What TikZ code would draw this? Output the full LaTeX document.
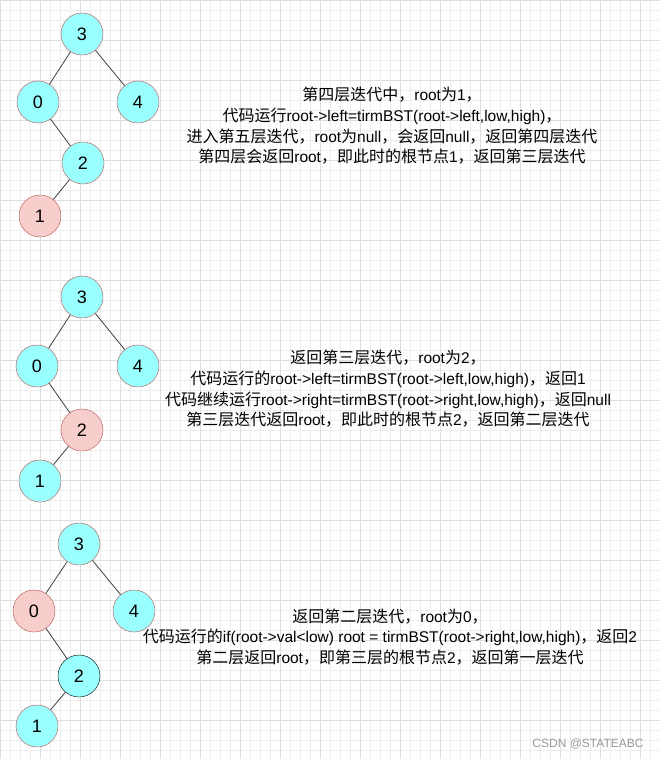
\documentclass[tikz,border=0pt]{standalone}
\usepackage{fontspec}
\setmainfont{Liberation Sans}
\newfontfamily\cjk{Noto Sans CJK SC}
\newcommand\zh[1]{{\cjk\fontsize{16}{20.7}\selectfont #1}}
\definecolor{cy}{HTML}{99FFFF}
\definecolor{pk}{HTML}{F8CECC}
\definecolor{st}{HTML}{B85450}
\begin{document}
\begin{tikzpicture}[x=1pt,y=-1pt,
  tn/.style={circle,minimum size=42pt,inner sep=0pt,draw=st,fill=cy,font=\fontsize{18}{18}\selectfont},
  red/.style={fill=pk},
  edge/.style={draw=black!75,line width=0.8pt},
  txt/.style={align=center,font=\fontsize{15.5}{20.7}\selectfont}]
\useasboundingbox (0,0) rectangle (660,759);
\fill[white] (0,0) rectangle (660,759);
\foreach \i in {0,10,...,660} \draw[black!7,line width=0.5pt] (\i,0) -- (\i,759);
\foreach \i in {0,10,...,750} \draw[black!7,line width=0.5pt] (0,\i) -- (660,\i);
\foreach \i in {0,40,...,660} \draw[black!13,line width=0.6pt] (\i,0) -- (\i,759);
\foreach \i in {0,40,...,750} \draw[black!13,line width=0.6pt] (0,\i) -- (660,\i);
% tree 1
\node[tn] (a3) at (82,34) {3};
\node[tn] (a0) at (38,102) {0};
\node[tn] (a4) at (138,102) {4};
\node[tn] (a2) at (83,163) {2};
\node[tn,red] (a1) at (40,216) {1};
\draw[edge] (a3)--(a0); \draw[edge] (a3)--(a4); \draw[edge] (a0)--(a2); \draw[edge] (a2)--(a1);
\node[txt] (t1) at (392,126) {\zh{第四层迭代中，}root\zh{为}1\zh{，}\\\zh{代码运行}root->left=tirmBST(root->left,low,high)\zh{，}\\\zh{进入第五层迭代，}root\zh{为}null\zh{，会返回}null\zh{，返回第四层迭代}\\\zh{第四层会返回}root\zh{，即此时的根节点}1\zh{，返回第三层迭代}};
% tree 2
\node[tn] (b3) at (82,297) {3};
\node[tn] (b0) at (37,366) {0};
\node[tn] (b4) at (138,366) {4};
\node[tn,red] (b2) at (82,430) {2};
\node[tn] (b1) at (40,481) {1};
\draw[edge] (b3)--(b0); \draw[edge] (b3)--(b4); \draw[edge] (b0)--(b2); \draw[edge] (b2)--(b1);
\node[txt] (t2) at (388,389) {\zh{返回第三层迭代，}root\zh{为}2\zh{，}\\\zh{代码运行的}root->left=tirmBST(root->left,low,high)\zh{，返回}1\\\zh{代码继续运行}root->right=tirmBST(root->right,low,high)\zh{，返回}null\\\zh{第三层迭代返回}root\zh{，即此时的根节点}2\zh{，返回第二层迭代}};
% tree 3
\node[tn] (c3) at (79,544) {3};
\node[tn,red] (c0) at (34,611) {0};
\node[tn] (c4) at (134,611) {4};
\node[tn,draw=black] (c2) at (79,676) {2};
\node[tn] (c1) at (37,726) {1};
\draw[edge] (c3)--(c0); \draw[edge] (c3)--(c4); \draw[edge] (c0)--(c2); \draw[edge] (c2)--(c1);
\node[txt] (t3) at (390,637) {\zh{返回第二层迭代，}root\zh{为}0\zh{，}\\\zh{代码运行的}if(root->val<low) root = tirmBST(root->right,low,high)\zh{，返回}2\\\zh{第二层返回}root\zh{，即第三层的根节点}2\zh{，返回第一层迭代}};
\node[font=\fontsize{12}{12}\selectfont,text=black!40] (wm) at (588,744) {CSDN @STATEABC};
\end{tikzpicture}
\end{document}
